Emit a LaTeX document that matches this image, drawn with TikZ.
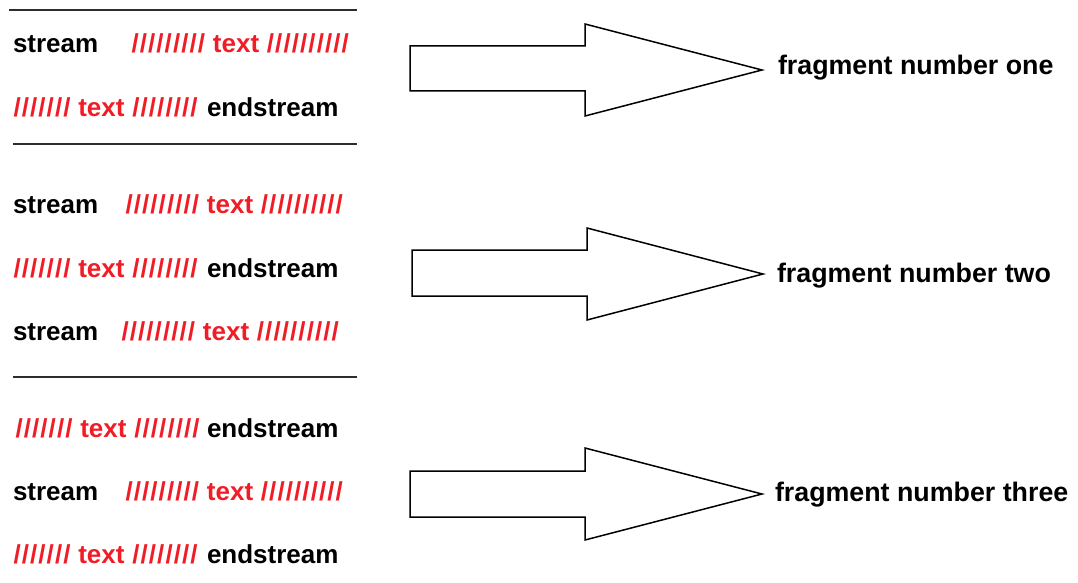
\documentclass[tikz,border=0pt]{standalone}
\usepackage{fontspec}
\setmainfont{Liberation Sans}
\definecolor{slashred}{RGB}{240,28,38}
\definecolor{rulegray}{RGB}{45,45,45}
% a run of evenly spaced slashes
\newcommand\slashrun[1]{\foreach\k in {1,...,#1}{\makebox[8.3pt][c]{/}}}
\tikzset{
  txt/.style={anchor=base west, inner sep=0pt, outer sep=0pt,
    font=\fontsize{26}{30}\selectfont\bfseries, text=black},
  redtxt/.style={txt, text=slashred},
  lbl/.style={txt, font=\fontsize{26.8}{30}\selectfont\bfseries},
  sep/.style={draw=rulegray, line width=2pt},
  bigarrow/.style={draw=black, line width=1.5pt, line join=miter, fill=white},
}
\begin{document}
\begin{tikzpicture}[x=1pt, y=-1pt]
\useasboundingbox (0,0) rectangle (1078,583);

% separators
\coordinate (s1a) at (9,10);   \coordinate (s1b) at (357,10);
\coordinate (s2a) at (13,144); \coordinate (s2b) at (357,144);
\coordinate (s3a) at (13,377); \coordinate (s3b) at (357,377);
\draw[sep] (s1a) -- (s1b);
\draw[sep] (s2a) -- (s2b);
\draw[sep] (s3a) -- (s3b);

% first fragment
\node[txt] (r1a) at (13,53) {stream};
\node[redtxt] (r1b) at (131,53) {\slashrun{9} text \slashrun{10}};
\node[redtxt] (r2a) at (13,117) {\slashrun{7} text \slashrun{8}};
\node[txt] (r2b) at (207,117) {endstream};

% second fragment
\node[txt] (r3a) at (13,213) {stream};
\node[redtxt] (r3b) at (125,213) {\slashrun{9} text \slashrun{10}};
\node[redtxt] (r4a) at (13,277) {\slashrun{7} text \slashrun{8}};
\node[txt] (r4b) at (207,277) {endstream};
\node[txt] (r5a) at (13,340) {stream};
\node[redtxt] (r5b) at (121,340) {\slashrun{9} text \slashrun{10}};

% third fragment
\node[redtxt] (r6a) at (15,437) {\slashrun{7} text \slashrun{8}};
\node[txt] (r6b) at (207,437) {endstream};
\node[txt] (r7a) at (13,500) {stream};
\node[redtxt] (r7b) at (125,500) {\slashrun{9} text \slashrun{10}};
\node[redtxt] (r8a) at (13,563) {\slashrun{7} text \slashrun{8}};
\node[txt] (r8b) at (207,563) {endstream};

% block arrows
\draw[bigarrow] (410,46) -- (585,46) -- (585,24) -- (762,70)
  -- (585,116) -- (585,91) -- (410,91) -- cycle;
\draw[bigarrow] (412,250) -- (587,250) -- (587,228) -- (763,274)
  -- (587,320) -- (587,296) -- (412,296) -- cycle;
\draw[bigarrow] (410,471) -- (585,471) -- (585,448) -- (762,494)
  -- (585,540) -- (585,517) -- (410,517) -- cycle;

% fragment labels
\node[lbl] (f1) at (778,75) {fragment number one};
\node[lbl] (f2) at (777,282) {fragment number two};
\node[lbl] (f3) at (775,501) {fragment number three};
\end{tikzpicture}
\end{document}
